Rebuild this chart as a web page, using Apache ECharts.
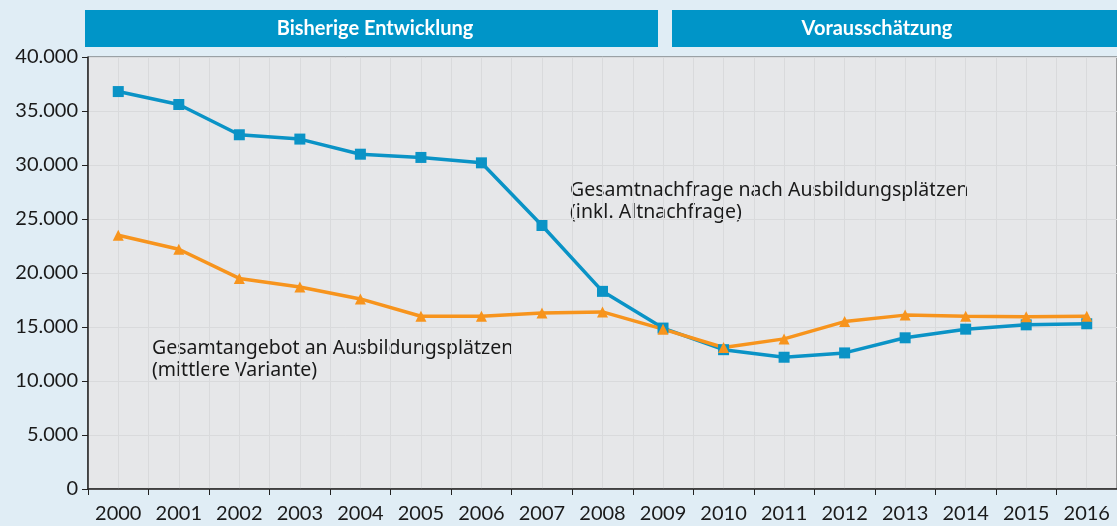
<!DOCTYPE html>
<html>
<head>
<meta charset="utf-8">
<script src="https://cdn.jsdelivr.net/npm/echarts@6/dist/echarts.min.js"></script>
<style>
  html, body { margin: 0; padding: 0; background: #e0edf5; }
  #chart { width: 1117px; height: 526px; }
</style>
</head>
<body>
<div id="chart"></div>
<script>
// Jahre
var years = ['2000', '2001', '2002', '2003', '2004', '2005', '2006', '2007', '2008',
             '2009', '2010', '2011', '2012', '2013', '2014', '2015', '2016'];
// Gesamtnachfrage nach Ausbildungsplätzen (inkl. Altnachfrage)
var nachfrage = [36800, 35600, 32800, 32400, 31000, 30700, 30200, 24400, 18300,
                 14900, 12900, 12200, 12600, 14000, 14800, 15200, 15300];
// Gesamtangebot an Ausbildungsplätzen (mittlere Variante)
var angebot = [23500, 22200, 19500, 18700, 17600, 16000, 16000, 16300, 16400,
               14800, 13100, 13900, 15500, 16100, 16000, 15950, 16000];
var headers = ['Bisherige Entwicklung', 'Vorausschätzung'];

var blue = '#0a93c6';
var orange = '#f7941d';
var font = 'Lato, "Open Sans", sans-serif';
var textFont = '"Noto Sans", sans-serif';

var myChart = echarts.init(document.getElementById('chart'));
var option = {
    backgroundColor: '#e0edf5',
    animation: false,
    grid: {
        left: 88, top: 57, width: 1039, height: 432,
        show: true, backgroundColor: '#e6e7e9', borderColor: '#555', borderWidth: 1
    },
    graphic: [
        { type: 'rect', shape: { x: 85, y: 10, width: 573, height: 37 }, style: { fill: '#0095c8' } },
        { type: 'rect', shape: { x: 672, y: 10, width: 450, height: 37 }, style: { fill: '#0095c8' } },
        { type: 'text', x: 375, y: 29, style: { text: headers[0], fill: '#fff', font: 'bold 20px ' + font, textAlign: 'center', textVerticalAlign: 'middle' } },
        { type: 'text', x: 877, y: 29, style: { text: headers[1], fill: '#fff', font: 'bold 20px ' + font, textAlign: 'center', textVerticalAlign: 'middle' } },
        { type: 'text', x: 570, y: 179, style: { text: 'Gesamtnachfrage nach Ausbildungsplätzen\n(inkl. Altnachfrage)', fill: '#1a1a1a', font: '19.5px ' + textFont, lineHeight: 22 } },
        { type: 'text', x: 152, y: 337, style: { text: 'Gesamtangebot an Ausbildungsplätzen\n(mittlere Variante)', fill: '#1a1a1a', font: '19.5px ' + textFont, lineHeight: 22 } }
    ],
    xAxis: [
        {
            type: 'category',
            data: years,
            boundaryGap: true,
            axisLine: { lineStyle: { color: '#222', width: 1.5 } },
            axisTick: { show: true, length: 6, lineStyle: { color: '#222' } },
            axisLabel: { color: '#1a1a1a', fontSize: 20, fontFamily: font, margin: 15 },
            splitLine: { show: false }
        },
        {
            type: 'value',
            min: 0, max: 34, interval: 1,
            position: 'bottom',
            axisLine: { show: false },
            axisTick: { show: false },
            axisLabel: { show: false },
            splitLine: { show: true, lineStyle: { color: '#d9dadc', width: 1 } }
        }
    ],
    yAxis: {
        type: 'value',
        min: 0, max: 40000, interval: 5000,
        axisLine: { show: true, lineStyle: { color: '#222', width: 1.5 } },
        axisTick: { show: true, length: 6, lineStyle: { color: '#222' } },
        axisLabel: {
            color: '#1a1a1a', fontSize: 20, fontFamily: font, margin: 10,
            formatter: function (v) { return v === 0 ? '0' : (v / 1000) + '.000'; }
        },
        splitLine: { lineStyle: { color: '#d9dadc' } }
    },
    series: [
        {
            name: 'Gesamtnachfrage',
            type: 'line',
            data: nachfrage,
            symbol: 'rect',
            symbolSize: 11,
            itemStyle: { color: blue },
            lineStyle: { color: blue, width: 3.5 }
        },
        {
            name: 'Gesamtangebot',
            type: 'line',
            data: angebot,
            symbol: 'triangle',
            symbolSize: 11,
            itemStyle: { color: orange },
            lineStyle: { color: orange, width: 3.5 }
        }
    ]
};
myChart.setOption(option);
</script>
</body>
</html>
